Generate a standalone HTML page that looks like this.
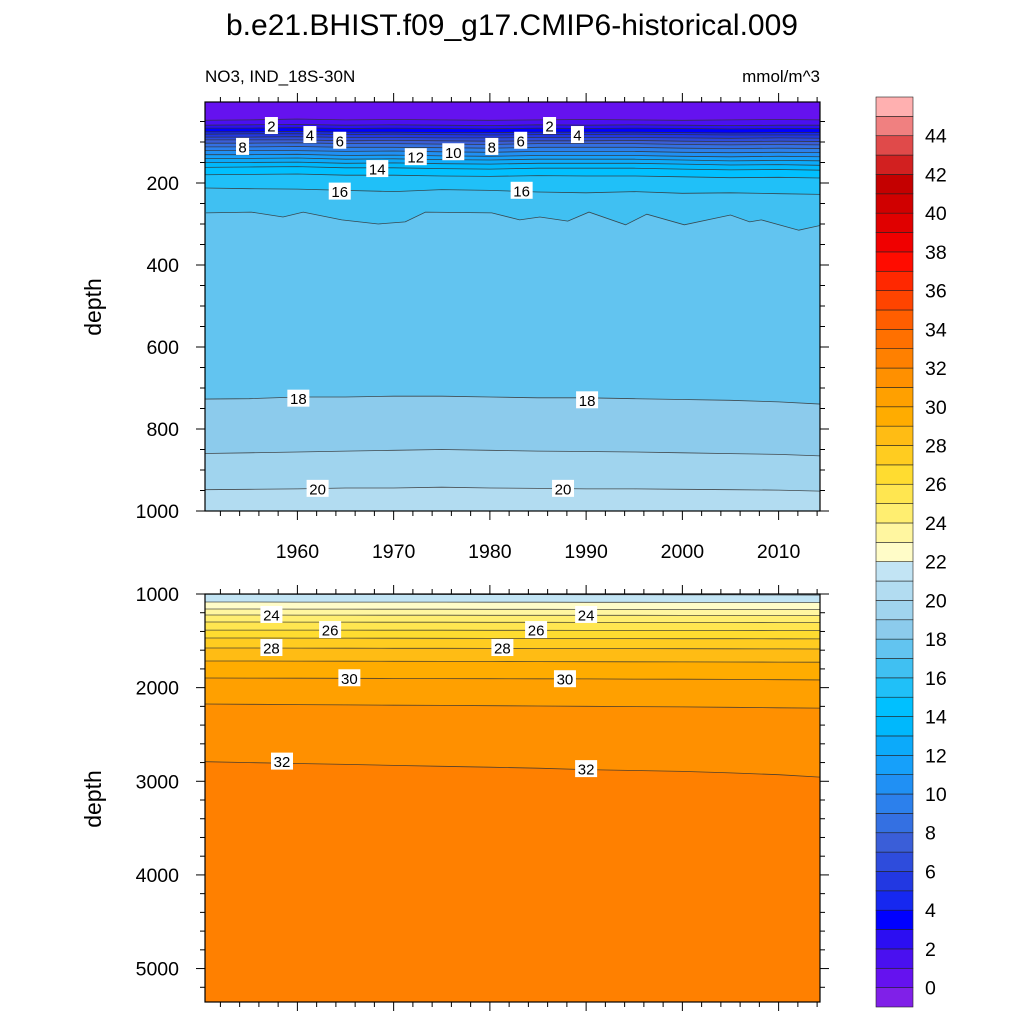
<!DOCTYPE html>
<html><head><meta charset="utf-8"><style>
html,body{margin:0;padding:0;background:#fff;}
svg{display:block;font-family:"Liberation Sans",Arial,sans-serif;}
</style></head><body>
<svg id="chart" width="1024" height="1024" viewBox="0 0 1024 1024" xmlns="http://www.w3.org/2000/svg">
<text x="512" y="35" text-anchor="middle" font-size="30">b.e21.BHIST.f09_g17.CMIP6-historical.009</text>
<text x="205" y="82" font-size="17">NO3, IND_18S-30N</text>
<text x="820" y="82" text-anchor="end" font-size="17">mmol/m^3</text>
<text transform="translate(101,307) rotate(-90)" text-anchor="middle" font-size="23">depth</text>
<text transform="translate(101,799) rotate(-90)" text-anchor="middle" font-size="23">depth</text>
<defs>
<clipPath id="clipTop"><rect x="205" y="102" width="615" height="409"/></clipPath>
<clipPath id="clipBot"><rect x="205" y="594" width="615" height="408"/></clipPath>
</defs>
<g id="topFill" clip-path="url(#clipTop)"></g>
<g id="botFill" clip-path="url(#clipBot)"></g>
<g id="labels"></g>
<g id="axes"></g>
<g id="cbar"></g>
</svg>
<script>
const bandColors = ["#8020e8","#6512ef","#4a10f0","#2c0ef2","#0000ff","#1628f0","#2238e2","#2e4cdc","#3a5ed8","#3470e2","#2c80ec","#2090f4","#16a0fa","#0caafa","#00b8fc","#00c0ff","#20c0f8","#40c0f2","#62c4f0","#8ccbec","#a0d4ee","#b2dcf1","#c2e4f4","#fffcc8","#fff6a0","#ffee70","#ffe650","#ffdc30","#ffcc20","#ffbc14","#ffac00","#ffa000","#ff9000","#ff8000","#ff7000","#ff5e00","#ff4400","#ff2800","#ff0c00","#f00000","#e00000","#d00000","#c40000","#d22020","#e04a4a","#f08080","#ffb0b0"];
const cbLabels = [0,2,4,6,8,10,12,14,16,18,20,22,24,26,28,30,32,34,36,38,40,42,44];
const yearsGrid = [1950,1955,1960,1965,1970,1975,1980,1985,1990,1995,2000,2005,2010,2015];
const years17 = [1950.5,1955.2,1958.5,1960.6,1964.6,1968.4,1971.2,1973.3,1980.2,1983.1,1985.2,1988.1,1990.3,1994.1,1996.3,2000.2,2005,2007,2008.2,2012.1,2015];
const contourLevels = [1,2,3,4,5,6,7,8,9,10,11,12,13,14,15,16,17,18,19,20,21,22,23,24,25,26,27,28,29,30,31,32];
const contourDepths = [
[47,46,44,46,45,46,47,46,45,46,47,46,45,46],
[59,58,57,59,58,59,60,58,59,58,59,60,59,59],
[66,66,65,67,66,67,68,66,67,66,67,68,67,67],
[75,75,74,76,76,77,77,76,76,76,77,78,77,77],
[81,80,80,82,81,82,83,82,82,81,82,83,83,83],
[88,88,87,89,89,90,90,89,89,89,90,91,90,91],
[95,95,95,97,96,97,98,97,97,96,98,99,98,99],
[103,103,102,104,104,105,106,104,104,104,106,107,106,107],
[112,112,111,113,113,114,115,113,113,113,115,116,115,116],
[121,121,121,123,122,124,125,123,123,123,125,126,125,126],
[131,131,130,133,132,134,135,133,133,133,135,136,135,136],
[140,140,139,142,141,143,144,142,142,142,144,146,145,146],
[150,150,149,152,151,153,154,152,152,152,154,156,155,157],
[162,161,160,163,163,165,166,164,164,164,166,168,167,169],
[180,179,178,181,181,183,184,182,183,183,185,187,186,188],
[212,214,215,218,221,216,218,222,224,221,225,224,226,228],
[273,271,283,271,290,300,295,271,273,290,283,293,271,302,276,302,278,295,290,315,300],
[727,726,722,722,720,720,722,724,724,726,728,730,734,740],
[860,858,856,854,852,850,852,854,855,856,858,860,862,866],
[948,947,946,944,944,942,944,945,946,946,947,948,949,952],
[1002,1002,1003,1003,1004,1005,1006,1006,1007,1008,1009,1010,1011,1012],
[1085,1085,1086,1086,1087,1087,1088,1088,1089,1089,1090,1090,1091,1091],
[1160,1160,1161,1161,1162,1162,1163,1163,1164,1164,1165,1165,1166,1166],
[1224,1224,1225,1225,1226,1226,1227,1227,1228,1228,1229,1229,1230,1230],
[1299,1299,1300,1300,1301,1301,1302,1302,1303,1303,1304,1304,1305,1305],
[1385,1385,1386,1386,1387,1387,1388,1388,1389,1389,1390,1390,1391,1391],
[1470,1470,1471,1471,1472,1473,1474,1474,1475,1476,1477,1477,1478,1479],
[1577,1577,1578,1579,1580,1580,1581,1582,1583,1583,1584,1585,1586,1587],
[1716,1716,1717,1718,1719,1720,1721,1722,1723,1724,1725,1726,1727,1728],
[1897,1898,1899,1900,1902,1903,1904,1906,1907,1909,1910,1912,1915,1918],
[2175,2178,2181,2184,2187,2190,2193,2196,2199,2202,2206,2210,2215,2220],
[2790,2800,2810,2820,2830,2840,2850,2860,2875,2885,2895,2910,2930,2960]
];
const labelTexts = ["2","4","6","8","10","12","14","16","18","20","2","4","6","8","16","18","20","24","26","28","30","32","24","26","28","30","32"];
const labelYears = [1957.3,1961.3,1964.4,1954.3,1976.2,1972.3,1968.3,1964.4,1960.1,1962.1,1986.2,1989.1,1983.2,1980.2,1983.3,1990.1,1987.6,1957.3,1963.4,1957.3,1965.4,1958.4,1990.0,1984.8,1981.3,1987.8,1990.0];
const labelDepths = [61,83,97,112,125,137,166,221,726,946,61,83,97,112,219,730,946,1224,1385,1577,1900,2790,1224,1385,1577,1910,2870];

const NS="http://www.w3.org/2000/svg";
const X0=205,X1=820,YR0=1950.4,YR1=2014.3;
function xOf(yr){return X0+(yr-YR0)*(X1-X0)/(YR1-YR0);}
function yTop(d){return 101+d*0.41;}
function yBot(d){return 594+(d-1000)*0.09364;}
function yAny(d){return d<=1000?yTop(d):yBot(d);}
function mk(tag,attrs,parent){const e=document.createElementNS(NS,tag);for(const k in attrs)e.setAttribute(k,attrs[k]);parent.appendChild(e);return e;}
function colorFor(level){return bandColors[level+1];}

function drawPanel(g,yf,bottomY,bgLevel,levelFilter){
  const bg=mk('rect',{x:X0,y:bottomY-420,width:X1-X0,height:430,fill:colorFor(bgLevel)},g);
  
  
  contourLevels.forEach((lev,i)=>{
    if(!levelFilter(lev))return;
    const yrs=contourDepths[i].length===years17.length?years17:yearsGrid;
    const pts=contourDepths[i].map((d,j)=>[xOf(yrs[j]),yf(d)]);
    const line=pts.map(p=>p[0].toFixed(1)+','+p[1].toFixed(1)).join(' ');
    const poly=mk('polygon',{points:line+' '+pts[pts.length-1][0].toFixed(1)+','+(bottomY+10)+' '+pts[0][0].toFixed(1)+','+(bottomY+10),fill:colorFor(lev)},g);
    
    
  });
  contourLevels.forEach((lev,i)=>{
    if(!levelFilter(lev))return;
    const yrs=contourDepths[i].length===years17.length?years17:yearsGrid;
    const line=contourDepths[i].map((d,j)=>xOf(yrs[j]).toFixed(1)+','+yf(d).toFixed(1)).join(' ');
    const pl=mk('polyline',{points:line,fill:'none',stroke:'#333','stroke-width':0.8,'stroke-opacity':0.85},g);
    
    
  });
}
drawPanel(document.getElementById('topFill'),yTop,511,0,l=>l<=21);
drawPanel(document.getElementById('botFill'),yBot,1002,20,l=>l>=21);

const lg=document.getElementById('labels');
labelTexts.forEach((t,i)=>{
  const x=xOf(labelYears[i]),y=yAny(labelDepths[i]);
  const w=t.length*9+4;
  const r=mk('rect',{x:x-w/2,y:y-9,width:w,height:17,fill:'#fff'},lg);
  
  
  const tx=mk('text',{x:x,y:y+5.5,'text-anchor':'middle','font-size':15},lg);
  tx.textContent=t;
  
  
});

const ax=document.getElementById('axes');
function tick(x1,y1,x2,y2){const l=mk('line',{x1,y1,x2,y2,stroke:'#000','stroke-width':1},ax);}
[[102,511],[594,1002]].forEach(([t,b],pi)=>{
  const f=mk('rect',{x:X0,y:t,width:X1-X0,height:b-t,fill:'none',stroke:'#000','stroke-width':1.2},ax);
  
  
  for(let yr=1952;yr<=2014;yr+=2){
    const x=xOf(yr),L=(yr%10===0)?9:5;
    tick(x,t,x,t-L);tick(x,b,x,b+L);
  }
});
for(let yr=1960;yr<=2010;yr+=10){
  const tx=mk('text',{x:xOf(yr),y:558,'text-anchor':'middle','font-size':19.5},ax);
  tx.textContent=yr;
  
  
}
for(let d=50;d<=1000;d+=50){
  const y=yTop(d),L=(d%200===0)?9:5;
  tick(X0,y,X0-L,y);tick(X1,y,X1+L,y);
  if(d%200===0){const tx=mk('text',{x:X0-26,y:y+7,'text-anchor':'end','font-size':19.5},ax);tx.textContent=d;}
}
for(let d=1000;d<=5200;d+=200){
  const y=yBot(d),L=(d%1000===0)?9:5;
  tick(X0,y,X0-L,y);tick(X1,y,X1+L,y);
  if(d%1000===0){const tx=mk('text',{x:X0-26,y:y+7,'text-anchor':'end','font-size':19.5},ax);tx.textContent=d;}
}

const cb=document.getElementById('cbar');
const CB0=97,CB1=1007,BH=(CB1-CB0)/bandColors.length;
bandColors.forEach((c,i)=>{
  const y=CB1-(i+1)*BH;
  const r=mk('rect',{x:876,y:y,width:37,height:BH,fill:c,stroke:'#222','stroke-width':0.6},cb);
  
  
});
cbLabels.forEach(v=>{
  const y=CB1-(v+1)*BH;
  const tx=mk('text',{x:925,y:y+7,'font-size':19.5},cb);
  tx.textContent=v;
  
  
});
</script>
</body></html>
